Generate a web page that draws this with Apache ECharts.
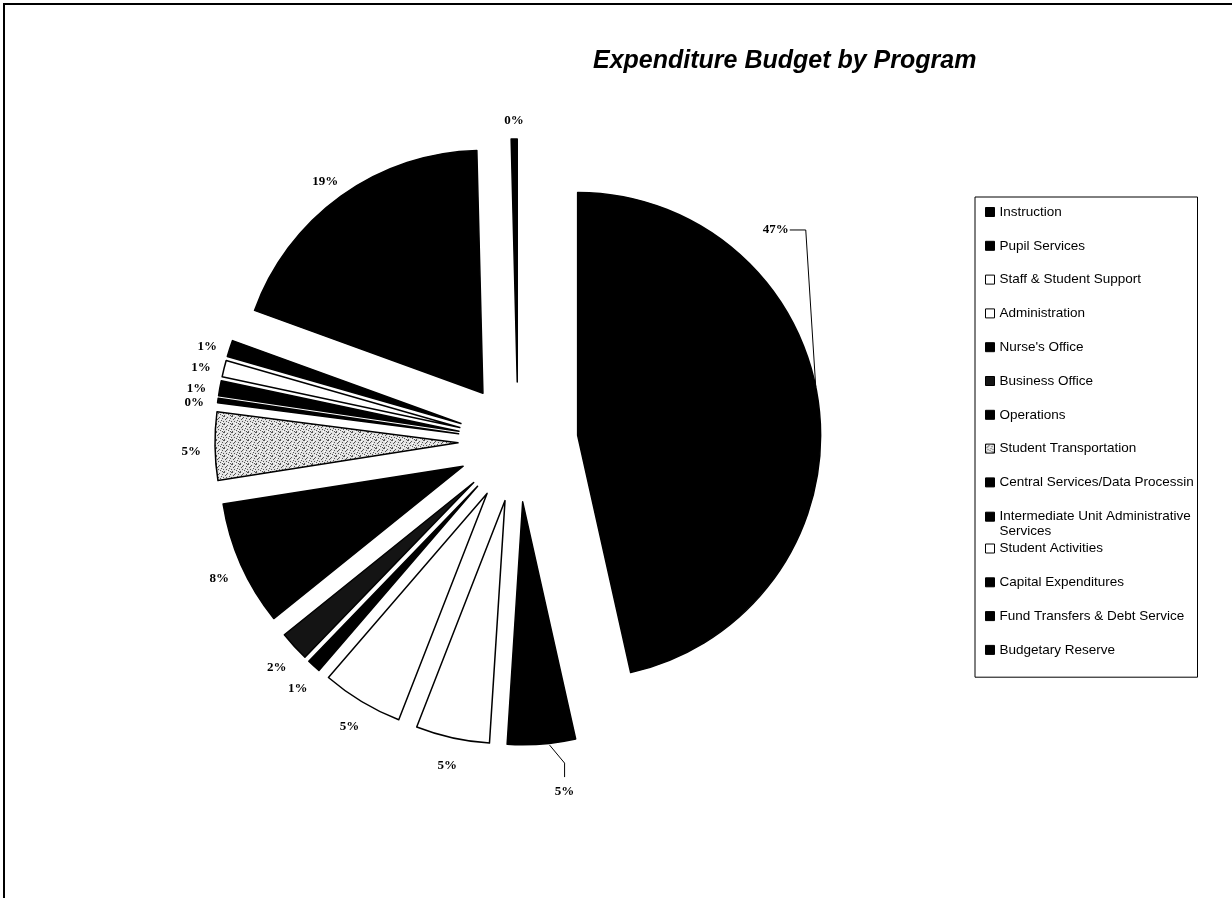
<!DOCTYPE html>
<html>
<head>
<meta charset="utf-8">
<script src="https://cdn.jsdelivr.net/npm/echarts@6/dist/echarts.min.js"></script>
<style>
html,body{margin:0;padding:0;background:#fff;}
#chart{position:absolute;left:0;top:0;width:1232px;height:898px;}
#frame{position:absolute;left:3px;top:3px;width:1229px;height:895px;border-top:2px solid #000;border-left:2px solid #000;pointer-events:none;}
</style>
</head>
<body>
<div id="chart"></div>
<div id="frame"></div>
<script>
// ---- data ----
const title = 'Expenditure Budget by Program';
const categories = [
  'Instruction',
  'Pupil Services',
  'Staff & Student Support',
  'Administration',
  "Nurse's Office",
  'Business Office',
  'Operations',
  'Student Transportation',
  'Central Services/Data Processing',
  'Intermediate Unit Administrative Services',
  'Student Activities',
  'Capital Expenditures',
  'Fund Transfers & Debt Service',
  'Budgetary Reserve'
];
const shares = [46.5, 4.52, 4.9, 5.4, 0.9, 2.0, 8.3, 4.52, 0.3, 1.0, 1.1, 1.1, 19.06, 0.4];

// ---- styles ----
function stipple() {
  const c = document.createElement('canvas');
  c.width = 8; c.height = 8;
  const ctx = c.getContext('2d');
  ctx.fillStyle = '#e2e2e2';
  ctx.fillRect(0, 0, 8, 8);
  const dark = [[0,0],[3,1],[6,2],[1,3],[5,4],[2,5],[7,5],[4,6],[0,7],[6,7],[2,2],[7,0]];
  ctx.fillStyle = '#555';
  dark.forEach(p => ctx.fillRect(p[0], p[1], 1, 1));
  const light = [[1,1],[4,3],[6,6],[3,7]];
  ctx.fillStyle = '#fff';
  light.forEach(p => ctx.fillRect(p[0], p[1], 1, 1));
  return {image: c, repeat: 'repeat'};
}
const fills = ['#000','#000','#fff','#fff','#000','#141414','#000', stipple(),'#000','#000','#fff','#000','#000','#000'];

// ---- layout ----
const CX = 518, CY = 442, R = 243, OFF = 60, GAP = 14;

function geom(i) {
  const total = shares.reduce((a, b) => a + b, 0);
  let cum = 0;
  for (let k = 0; k < i; k++) cum += shares[k];
  const mid = (cum + shares[i] / 2) / total * 2 * Math.PI;
  const dx = Math.sin(mid), dy = -Math.cos(mid);
  return {dx, dy, apex: [CX + OFF * dx, CY + OFF * dy], outer: [CX + (OFF + R) * dx, CY + (OFF + R) * dy]};
}

function labelLayout(p) {
  const i = p.dataIndex;
  const g = geom(i);
  const hw = p.labelRect.width / 2, hh = p.labelRect.height / 2;
  if (i === 0) {
    const a = 78.5 * Math.PI / 180;
    const end = [g.apex[0] + R * Math.sin(a), g.apex[1] - R * Math.cos(a)];
    const bend = [end[0] - 10, end[1] - 157];
    const p3 = [bend[0] - 16, bend[1]];
    return {x: p3[0] - 1, y: p3[1], align: 'right', verticalAlign: 'middle', labelLinePoints: [end, bend, p3]};
  }
  if (i === 1) {
    const o = g.outer;
    const s = [o[0] + 8, o[1] + 1];
    const b = [o[0] + 23, o[1] + 19];
    const e = [o[0] + 23, o[1] + 33];
    return {x: e[0], y: e[1] + 15, align: 'center', verticalAlign: 'middle', labelLinePoints: [s, b, e]};
  }
  return {
    x: g.outer[0] + g.dx * (GAP + hw),
    y: g.outer[1] + g.dy * (GAP + hh) + 5 + 3 * g.dy,
    align: 'center',
    verticalAlign: 'middle'
  };
}

// one pie per slice, each drawn at its exploded centre
const series = categories.map((_, i) => {
  const g = geom(i);
  return {
    type: 'pie',
    center: g.apex,
    radius: R,
    startAngle: 90,
    clockwise: true,
    silent: true,
    avoidLabelOverlap: false,
    emphasis: {disabled: true},
    label: {
      position: 'outside',
      fontFamily: 'Liberation Serif',
      fontWeight: 'bold',
      fontSize: 13,
      color: '#000',
      formatter: p => Math.round(p.percent) + '%'
    },
    labelLine: {length: 10, length2: 5, lineStyle: {color: '#000', width: 1}},
    labelLayout: labelLayout,
    data: categories.map((n, k) => ({
      name: n,
      value: shares[k],
      itemStyle: k === i
        ? {color: fills[k], borderColor: '#000', borderWidth: 1.5}
        : {color: 'rgba(0,0,0,0)', borderWidth: 0},
      label: {show: k === i},
      labelLine: {show: k === i && k < 2}
    }))
  };
});

const legendFont = {fontFamily: 'Liberation Sans', fontSize: 13.5, color: '#000'};
const wrapName = categories[9];

function legendItem(n) {
  const i = categories.indexOf(n);
  const item = {name: n, itemStyle: {color: fills[i], borderColor: '#000', borderWidth: 1}};
  if (i === 8) item.textStyle = {width: 198, overflow: 'truncate', ellipsis: ''};
  if (i === 9) item.textStyle = {
    rich: {
      a: Object.assign({lineHeight: 16}, legendFont),
      b: Object.assign({lineHeight: 1, verticalAlign: 'top'}, legendFont)
    }
  };
  return item;
}
const legendBase = {
  orient: 'vertical',
  left: 975,
  itemWidth: 9,
  itemHeight: 9,
  itemGap: 17.8,
  selectedMode: false,
  icon: 'rect',
  textStyle: Object.assign({lineHeight: 16}, legendFont),
  formatter: function (name) {
    if (name !== wrapName) return name;
    const words = name.split(' ');
    return '{a|' + words.slice(0, -1).join(' ') + '}\n{b|' + words[words.length - 1] + '}';
  }
};

const chart = echarts.init(document.getElementById('chart'), null, {renderer: 'canvas'});
chart.setOption({
  animation: false,
  backgroundColor: '#fff',
  title: {
    text: title,
    left: 588,
    top: 44,
    textStyle: {fontFamily: 'Liberation Sans', fontSize: 25, fontWeight: 'bold', fontStyle: 'italic', color: '#000'}
  },
  legend: [
    Object.assign({}, legendBase, {
      top: 197,
      borderColor: '#000',
      borderWidth: 1,
      padding: [7, 0, 139, 10],
      data: categories.slice(0, 10).map(legendItem)
    }),
    Object.assign({}, legendBase, {
      top: 540.5,
      padding: [0, 0, 0, 10],
      data: categories.slice(10).map(legendItem)
    })
  ],
  series: series
});
</script>
</body>
</html>
